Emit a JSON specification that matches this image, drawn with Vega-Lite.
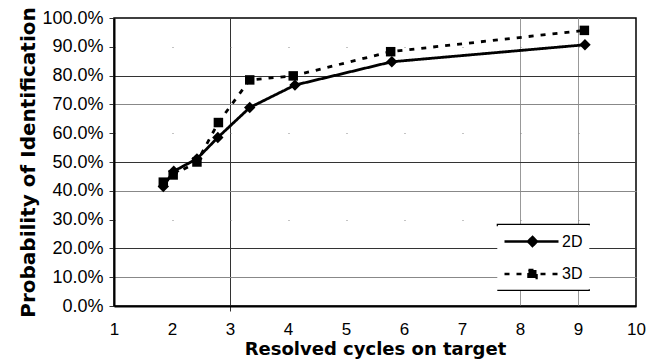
{
  "$schema": "https://vega.github.io/schema/vega-lite/v6.json",
  "width": 522,
  "height": 288,
  "autosize": "none",
  "padding": {"left": 114, "top": 18, "right": 13, "bottom": 58},
  "background": "white",
  "config": {"view": {"stroke": "#000", "strokeWidth": 1.5}, "font": "Liberation Sans"},
  "data": {"values": [
    {"x": 1.85, "p": 0.415, "series": "2D"},
    {"x": 2.03, "p": 0.468, "series": "2D"},
    {"x": 2.43, "p": 0.511, "series": "2D"},
    {"x": 2.79, "p": 0.585, "series": "2D"},
    {"x": 3.34, "p": 0.689, "series": "2D"},
    {"x": 4.12, "p": 0.767, "series": "2D"},
    {"x": 5.79, "p": 0.848, "series": "2D"},
    {"x": 9.12, "p": 0.907, "series": "2D"},
    {"x": 1.85, "p": 0.430, "series": "3D"},
    {"x": 2.02, "p": 0.455, "series": "3D"},
    {"x": 2.43, "p": 0.500, "series": "3D"},
    {"x": 2.80, "p": 0.637, "series": "3D"},
    {"x": 3.34, "p": 0.785, "series": "3D"},
    {"x": 4.09, "p": 0.799, "series": "3D"},
    {"x": 5.77, "p": 0.883, "series": "3D"},
    {"x": 9.11, "p": 0.957, "series": "3D"}
  ]},
  "encoding": {
    "x": {"field": "x", "type": "quantitative",
      "scale": {"domain": [1, 10], "nice": false, "zero": false},
      "axis": {
        "values": [1,2,3,4,5,6,7,8,9,10], "format": "d",
        "title": "Resolved cycles on target",
        "titleFont": "DejaVu Sans", "titleFontSize": 18, "titleFontWeight": "bold", "titleColor": "#000", "titlePadding": 3,
        "labelFont": "Liberation Sans", "labelFontSize": 17, "labelColor": "#000", "labelPadding": 10,
        "labelFlush": false, "labelOverlap": false,
        "ticks": true, "tickSize": 5,
        "tickColor": {"condition": {"test": "round(datum.value) == 3", "value": "#333"}, "value": "transparent"},
        "domain": true, "domainColor": "#000", "domainWidth": 2,
        "grid": true,
        "gridColor": {"condition": {"test": "round(datum.value) == 3", "value": "#333"}, "value": "#999"},
        "gridOpacity": {"condition": {"test": "indexof([3,8,9], round(datum.value)) >= 0", "value": 1}, "value": 0},
        "gridWidth": 1
      }
    },
    "y": {"field": "p", "type": "quantitative",
      "scale": {"domain": [0, 1], "nice": false},
      "axis": {
        "values": [0,0.1,0.2,0.3,0.4,0.5,0.6,0.7,0.8,0.9,1], "format": ".1%",
        "title": "Probability of Identification",
        "titleFont": "DejaVu Sans", "titleFontSize": 20, "titleFontWeight": "bold", "titleColor": "#000", "titlePadding": 3,
        "labelFont": "Liberation Sans", "labelFontSize": 18, "labelColor": "#000", "labelPadding": 6,
        "labelOverlap": false,
        "ticks": true, "tickSize": 5, "tickColor": "#333",
        "domain": true, "domainColor": "#000", "domainWidth": 2,
        "grid": true,
        "gridColor": {"condition": {"test": "indexof([2,5,8], round(datum.value*10)) >= 0", "value": "#333"}, "value": "#888"},
        "gridOpacity": {"condition": {"test": "round(datum.value*10) == 0 || round(datum.value*10) == 10", "value": 0}, "value": 1},
        "gridDash": {"condition": {"test": "indexof([3,6,9], round(datum.value*10)) >= 0", "value": [1, 57]}, "value": []},
        "gridWidth": 1
      }
    }
  },
  "layer": [
    {
      "mark": {"type": "line", "strokeWidth": 2.8, "color": "#000"},
      "encoding": {
        "strokeDash": {"field": "series", "type": "nominal",
          "scale": {"domain": ["2D", "3D"], "range": [[1, 0], [5, 7]]},
          "legend": {
            "orient": "none", "legendX": 383, "legendY": 206,
            "title": null, "padding": 6,
            "fillColor": "#fff", "strokeColor": "#000",
            "symbolSize": 400, "symbolStrokeWidth": 2.5, "symbolStrokeColor": "#000", "symbolFillColor": "#000",
            "labelFont": "Liberation Sans", "labelFontSize": 16, "labelColor": "#000", "labelOffset": 36,
            "rowPadding": 11.6,
            "encode": {
              "legend": {"update": {"strokeDash": {"value": [93, 64, 93, 64]}, "strokeWidth": {"value": 1.2}}},
              "symbols": {"update": {
                "shape": {"signal": "datum.value === '2D' ? 'M-1,0H4.4M1.8,-0.45L2.25,0L1.8,0.45L1.35,0Z' : 'M-1,0H4.4M1.4,-0.4H2.2V0.4H1.4Z'"},
                "fill": {"value": "#000"},
                "stroke": {"value": "#000"}
              }}
            }
          }
        }
      }
    },
    {
      "mark": {"type": "point", "filled": true, "color": "#000", "opacity": 1},
      "encoding": {
        "shape": {"condition": {"test": "datum.series === '3D'", "value": "square"}, "value": "diamond"},
        "size": {"condition": {"test": "datum.series === '3D'", "value": 90}, "value": 130}
      }
    }
  ]
}
